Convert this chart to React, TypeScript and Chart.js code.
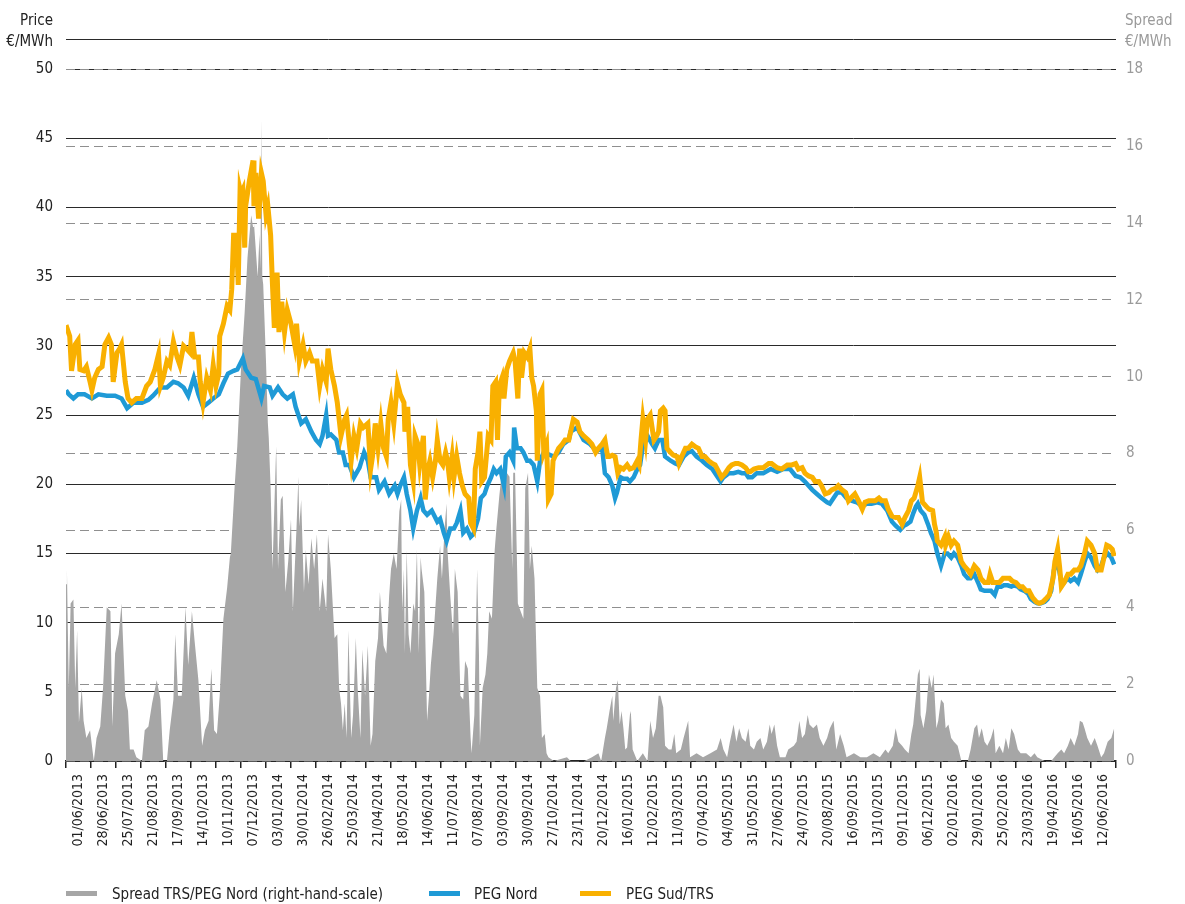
import React, { useEffect, useRef } from 'react';
import { Chart, registerables } from 'chart.js';

Chart.register(...registerables);

// Day offsets are counted from 01/06/2013.
const xTickLabels = [
  '01/06/2013', '28/06/2013', '25/07/2013', '21/08/2013', '17/09/2013', '14/10/2013', '10/11/2013',
  '07/12/2013', '03/01/2014', '30/01/2014', '26/02/2014', '25/03/2014', '21/04/2014', '18/05/2014',
  '14/06/2014', '11/07/2014', '07/08/2014', '03/09/2014', '30/09/2014', '27/10/2014', '23/11/2014',
  '20/12/2014', '16/01/2015', '12/02/2015', '11/03/2015', '07/04/2015', '04/05/2015', '31/05/2015',
  '27/06/2015', '24/07/2015', '20/08/2015', '16/09/2015', '13/10/2015', '09/11/2015', '06/12/2015',
  '02/01/2016', '29/01/2016', '25/02/2016', '23/03/2016', '19/04/2016', '16/05/2016', '12/06/2016',
];
const TICK_STEP_DAYS = 27;

const leftTicks = [0, 5, 10, 15, 20, 25, 30, 35, 40, 45, 50];
const rightTicks = [0, 2, 4, 6, 8, 10, 12, 14, 16, 18];

// [day offset, €/MWh]
const pegSud: [number, number][] = [
  [0, 31.5], [4, 30.7], [6, 28.2], [10, 30.1], [13, 30.4], [15, 28.3], [19, 28.2], [22, 28.5], [26, 27.4], [28, 26.8],
  [31, 27.7], [35, 28.3], [39, 28.5], [42, 30.1], [46, 30.6], [49, 30.1], [51, 27.4], [55, 29.5], [58, 29.8], [60, 30.1],
  [64, 27.4], [67, 26.2], [71, 25.9], [76, 26.2], [82, 26.2], [87, 27.1], [91, 27.4], [96, 28.3], [100, 29.4], [102, 27.1],
  [105, 27.7], [109, 28.9], [112, 28.6], [116, 30.3], [120, 29.2], [123, 28.6], [127, 30.0], [130, 29.8], [134, 29.5], [136, 31.0],
  [139, 29.2], [143, 29.2], [145, 27.4], [148, 25.9], [152, 27.7], [156, 26.8], [159, 28.6], [162, 27.1], [165, 28.0], [166, 30.7],
  [170, 31.6], [174, 32.9], [177, 32.6], [179, 34.1], [181, 38.0], [184, 38.0], [186, 34.4], [188, 41.3], [189, 41.0], [191, 41.3],
  [193, 37.1], [194, 40.1], [198, 41.9], [202, 43.4], [203, 40.1], [205, 42.5], [208, 39.2], [211, 42.5], [213, 41.9], [216, 39.5],
  [218, 40.1], [221, 38.0], [223, 34.4], [225, 31.3], [228, 35.3], [230, 31.0], [233, 33.2], [236, 31.0], [239, 32.6], [243, 31.6],
  [247, 30.1], [249, 31.6], [252, 28.9], [256, 30.1], [259, 28.9], [263, 29.5], [266, 28.9], [271, 28.9], [274, 27.1], [277, 28.3],
  [281, 27.4], [283, 29.8], [286, 28.3], [290, 27.1], [293, 25.9], [297, 23.5], [301, 24.7], [303, 25.0], [306, 22.9], [308, 21.7],
  [311, 23.5], [314, 22.6], [318, 24.4], [321, 24.1], [326, 24.4], [329, 21.1], [331, 22.0], [334, 24.4], [337, 22.6], [340, 24.4],
  [343, 22.6], [346, 22.0], [348, 24.7], [351, 25.9], [354, 24.4], [358, 27.3], [361, 26.5], [365, 25.9], [366, 23.8], [369, 25.6],
  [372, 21.4], [375, 20.2], [377, 23.5], [380, 22.9], [382, 21.4], [386, 23.5], [388, 18.9], [391, 21.1], [393, 21.7], [396, 20.5],
  [399, 21.7], [401, 23.2], [404, 21.7], [407, 21.4], [410, 22.3], [412, 21.7], [414, 20.5], [417, 22.0], [419, 20.5], [422, 22.0],
  [425, 20.8], [428, 19.9], [431, 19.3], [435, 19.0], [437, 17.2], [440, 16.8], [442, 21.1], [445, 22.3], [447, 23.8], [449, 20.2],
  [452, 20.5], [454, 22.0], [456, 23.5], [459, 23.2], [461, 27.1], [464, 27.4], [466, 23.2], [468, 27.1], [471, 27.7], [473, 26.2],
  [476, 28.3], [479, 28.9], [483, 29.5], [485, 28.9], [488, 26.2], [490, 29.8], [492, 27.7], [495, 29.5], [498, 29.2], [501, 29.8],
  [503, 27.7], [505, 27.1], [508, 25.3], [509, 21.7], [512, 26.5], [514, 26.8], [516, 22.3], [519, 22.9], [521, 18.9], [524, 19.3],
  [526, 21.7], [528, 22.0], [532, 22.6], [536, 22.9], [539, 23.2], [543, 23.2], [546, 24.1], [548, 24.7], [552, 24.5], [555, 23.8],
  [559, 23.5], [564, 23.2], [568, 22.9], [572, 22.3], [575, 22.6], [579, 22.9], [582, 23.2], [585, 22.0], [587, 22.0], [590, 22.1],
  [593, 22.0], [596, 20.8], [599, 21.2], [602, 21.1], [606, 21.4], [609, 21.1], [613, 21.2], [617, 21.7], [619, 21.4], [621, 23.2],
  [623, 24.7], [626, 23.2], [628, 24.7], [631, 25.0], [633, 24.1], [635, 23.2], [638, 23.5], [640, 23.8], [642, 25.3], [645, 25.5],
  [647, 25.3], [649, 22.6], [653, 22.3], [656, 22.1], [660, 22.0], [662, 21.5], [665, 22.0], [669, 22.6], [672, 22.6], [676, 22.9],
  [680, 22.7], [683, 22.6], [687, 22.0], [690, 22.0], [694, 21.7], [698, 21.5], [701, 21.4], [705, 20.9], [708, 20.5], [712, 20.8],
  [716, 21.2], [719, 21.4], [723, 21.5], [726, 21.5], [730, 21.4], [734, 21.2], [737, 20.9], [739, 20.9], [743, 21.1], [748, 21.2],
  [753, 21.2], [759, 21.5], [762, 21.5], [768, 21.2], [773, 21.1], [779, 21.4], [784, 21.4], [788, 21.5], [791, 21.1], [795, 21.2],
  [798, 20.8], [802, 20.6], [806, 20.5], [809, 20.2], [813, 20.2], [816, 19.9], [820, 19.3], [824, 19.4], [827, 19.6], [831, 19.7],
  [834, 19.9], [838, 19.6], [842, 19.4], [845, 18.8], [849, 19.1], [852, 19.3], [856, 18.8], [860, 18.2], [863, 18.7], [867, 18.8],
  [870, 18.8], [874, 18.8], [878, 19.0], [881, 18.8], [885, 18.8], [888, 18.2], [892, 17.7], [896, 17.6], [899, 17.6], [903, 17.1],
  [906, 17.6], [910, 18.1], [913, 18.8], [916, 19.0], [920, 19.9], [922, 20.5], [923, 19.9], [925, 18.7], [929, 18.4], [932, 18.2],
  [936, 18.1], [938, 17.1], [940, 16.5], [941, 15.9], [945, 15.6], [949, 16.2], [950, 15.6], [953, 16.2], [956, 15.6], [959, 15.9],
  [963, 15.6], [967, 14.4], [970, 14.1], [974, 13.8], [977, 13.5], [981, 14.1], [985, 13.8], [988, 13.2], [992, 12.9], [996, 12.9],
  [998, 13.5], [1001, 12.9], [1004, 12.9], [1008, 12.9], [1012, 13.2], [1015, 13.2], [1019, 13.2], [1022, 13.0], [1026, 12.9], [1030, 12.6],
  [1033, 12.6], [1037, 12.3], [1040, 12.3], [1044, 11.8], [1048, 11.5], [1051, 11.4], [1055, 11.5], [1058, 11.7], [1062, 12.0], [1066, 13.2],
  [1068, 14.4], [1071, 15.3], [1073, 14.1], [1075, 12.6], [1078, 12.9], [1082, 13.5], [1085, 13.5], [1089, 13.8], [1093, 13.8], [1096, 14.1],
  [1100, 15.0], [1103, 15.9], [1107, 15.6], [1111, 15.0], [1114, 13.8], [1118, 13.8], [1121, 14.7], [1124, 15.6], [1127, 15.5], [1130, 15.3],
  [1132, 14.8],
];

// [day offset, €/MWh]
const pegNord: [number, number][] = [
  [0, 26.8], [3, 26.5], [8, 26.2], [13, 26.5], [20, 26.5], [28, 26.2], [35, 26.5], [44, 26.4], [53, 26.4], [60, 26.2],
  [66, 25.5], [73, 25.9], [82, 25.9], [89, 26.1], [94, 26.4], [102, 27.0], [109, 27.0], [116, 27.4], [121, 27.3], [127, 27.0],
  [132, 26.4], [138, 27.7], [143, 26.5], [148, 25.6], [154, 25.9], [159, 26.2], [165, 26.5], [170, 27.3], [175, 28.0], [181, 28.2],
  [185, 28.3], [191, 29.1], [194, 28.3], [200, 27.7], [205, 27.6], [211, 26.2], [214, 27.1], [220, 27.0], [223, 26.4], [229, 27.0],
  [234, 26.5], [239, 26.2], [245, 26.5], [248, 25.6], [254, 24.4], [259, 24.7], [265, 23.8], [270, 23.2], [274, 22.9], [277, 23.5],
  [281, 25.0], [283, 23.5], [286, 23.6], [292, 23.2], [295, 22.3], [299, 22.3], [302, 21.4], [306, 21.4], [311, 20.5], [317, 21.2],
  [322, 22.3], [326, 21.7], [329, 20.5], [335, 20.5], [338, 19.6], [344, 20.2], [349, 19.3], [355, 19.9], [358, 19.3], [361, 19.9],
  [365, 20.5], [368, 19.3], [372, 18.1], [375, 16.8], [379, 18.1], [383, 19.0], [386, 18.1], [390, 17.8], [395, 18.1], [401, 17.3],
  [404, 17.5], [408, 16.5], [411, 15.9], [415, 16.8], [419, 16.8], [422, 17.2], [426, 18.1], [429, 16.5], [433, 16.8], [437, 16.2],
  [440, 16.4], [445, 17.5], [448, 19.0], [452, 19.3], [455, 19.9], [459, 20.5], [462, 21.1], [465, 20.8], [469, 21.1], [473, 19.9],
  [475, 22.0], [479, 22.3], [483, 21.7], [484, 24.1], [487, 22.6], [491, 22.6], [494, 22.3], [498, 21.7], [501, 21.7], [505, 21.4],
  [509, 20.2], [512, 21.7], [516, 22.3], [527, 22.0], [532, 22.3], [537, 22.9], [543, 23.2], [545, 23.8], [552, 24.1], [559, 23.2],
  [566, 22.9], [573, 22.4], [579, 22.6], [582, 20.8], [586, 20.5], [590, 19.9], [593, 19.0], [595, 19.4], [599, 20.5], [602, 20.4],
  [606, 20.4], [609, 20.2], [613, 20.5], [617, 21.1], [620, 21.4], [624, 23.2], [628, 23.5], [633, 22.9], [636, 22.6], [640, 23.2],
  [644, 23.2], [647, 22.0], [653, 21.7], [658, 21.5], [662, 21.4], [667, 22.0], [672, 22.3], [676, 22.4], [681, 22.0], [687, 21.7],
  [692, 21.4], [698, 21.1], [703, 20.6], [707, 20.2], [710, 20.5], [716, 20.8], [721, 20.8], [726, 20.9], [730, 20.8], [734, 20.8],
  [737, 20.5], [741, 20.5], [746, 20.8], [753, 20.8], [761, 21.1], [768, 20.9], [775, 21.1], [782, 21.1], [788, 20.6], [793, 20.5],
  [798, 20.2], [802, 19.9], [806, 19.6], [811, 19.3], [816, 19.0], [822, 18.7], [825, 18.6], [829, 19.0], [833, 19.4], [838, 19.4],
  [843, 19.0], [849, 18.8], [854, 18.7], [860, 18.4], [865, 18.6], [870, 18.6], [876, 18.7], [881, 18.6], [887, 18.1], [892, 17.3],
  [896, 17.0], [901, 16.7], [905, 17.0], [908, 17.1], [912, 17.3], [915, 17.9], [918, 18.4], [920, 18.6], [923, 18.1], [927, 17.8],
  [931, 17.1], [934, 16.5], [938, 15.9], [941, 15.0], [945, 14.1], [949, 15.0], [952, 15.0], [956, 14.7], [959, 15.0], [963, 14.7],
  [967, 14.1], [970, 13.5], [974, 13.2], [977, 13.2], [981, 13.5], [985, 12.9], [988, 12.4], [992, 12.3], [995, 12.3], [999, 12.3],
  [1003, 12.0], [1006, 12.6], [1010, 12.6], [1013, 12.7], [1017, 12.7], [1021, 12.6], [1024, 12.7], [1028, 12.6], [1031, 12.4], [1035, 12.3],
  [1039, 12.1], [1042, 11.7], [1046, 11.5], [1049, 11.4], [1053, 11.4], [1057, 11.5], [1060, 11.7], [1064, 12.3], [1067, 13.8], [1071, 14.4],
  [1075, 12.9], [1078, 12.9], [1082, 13.2], [1085, 13.0], [1089, 13.2], [1093, 12.9], [1096, 13.5], [1100, 14.4], [1103, 15.0], [1107, 14.7],
  [1111, 14.1], [1114, 13.8], [1118, 14.1], [1121, 14.7], [1125, 15.0], [1129, 14.7], [1132, 14.2],
];

// [day offset, spread €/MWh] (right-hand scale)
const spread: [number, number][] = [
  [0, 4.6], [1, 5.0], [3, 1.9], [5, 4.1], [8, 4.2], [10, 1.9], [12, 3.4], [14, 1.0], [17, 1.9], [19, 1.05],
  [22, 0.6], [26, 0.8], [30, 0], [33, 0.6], [37, 0.9], [40, 1.9], [44, 4.0], [48, 3.9], [50, 0.9], [53, 2.8],
  [57, 3.3], [60, 4.1], [64, 1.7], [67, 1.3], [69, 0.3], [73, 0.3], [76, 0.1], [82, 0], [85, 0.8], [89, 0.9],
  [93, 1.5], [98, 2.1], [102, 1.6], [105, 0], [109, 0], [112, 0.8], [116, 1.6], [118, 3.3], [121, 1.7], [125, 1.7],
  [129, 4.0], [132, 2.5], [136, 3.9], [139, 3.1], [143, 2.1], [147, 0.4], [150, 0.8], [154, 1.05], [157, 2.4], [160, 0.8],
  [163, 0.7], [166, 1.7], [170, 3.7], [174, 4.5], [177, 5.3], [178, 5.4], [182, 7.1], [185, 8.2], [189, 10.2], [193, 11.7],
  [196, 13.1], [200, 14.2], [202, 13.9], [203, 14.0], [207, 12.6], [209, 13.7], [210, 12.8], [211, 16.7], [212, 12.6], [213, 12.4],
  [216, 10.4], [218, 8.8], [219, 8.4], [221, 7.1], [223, 5.0], [225, 6.6], [227, 8.2], [229, 5.0], [232, 6.8], [234, 6.9],
  [237, 4.4], [240, 5.2], [243, 6.3], [245, 3.9], [249, 6.1], [251, 7.4], [252, 6.1], [254, 6.8], [257, 4.4], [259, 5.5],
  [262, 4.6], [265, 5.8], [268, 5.0], [271, 5.9], [274, 3.9], [277, 4.75], [281, 3.9], [283, 5.9], [286, 5.0], [290, 3.2],
  [293, 3.3], [295, 1.9], [297, 1.5], [299, 0.8], [301, 1.5], [303, 0.6], [305, 3.4], [308, 0.6], [310, 1.2], [313, 3.2],
  [315, 1.9], [318, 0.6], [320, 2.9], [323, 1.7], [326, 3.0], [329, 0.4], [331, 0.7], [334, 2.6], [337, 3.2], [339, 4.4],
  [343, 3.0], [346, 2.8], [349, 4.3], [351, 5.0], [354, 5.4], [357, 5.0], [360, 6.5], [362, 6.8], [363, 3.9], [365, 5.0],
  [366, 2.8], [368, 5.5], [370, 3.3], [372, 2.8], [375, 4.1], [377, 3.9], [379, 5.5], [381, 2.8], [383, 5.3], [384, 5.0],
  [387, 4.4], [390, 1.05], [392, 1.7], [394, 2.5], [397, 3.3], [401, 4.75], [404, 5.6], [406, 4.75], [409, 6.1], [411, 6.7],
  [412, 5.5], [415, 4.3], [418, 3.3], [420, 5.0], [423, 4.4], [426, 1.7], [429, 1.6], [431, 2.6], [434, 2.4], [437, 0.6],
  [438, 0.2], [441, 1.2], [444, 5.0], [446, 2.8], [447, 0.4], [450, 1.9], [453, 2.25], [455, 2.8], [457, 3.9], [460, 3.7],
  [463, 5.5], [465, 6.1], [468, 6.9], [471, 7.6], [473, 7.1], [476, 7.5], [479, 7.4], [482, 5.0], [483, 7.5], [485, 7.5],
  [488, 4.1], [491, 3.9], [494, 3.7], [496, 7.1], [499, 7.5], [501, 5.0], [503, 5.6], [506, 4.75], [509, 1.9], [512, 1.7],
  [514, 0.6], [517, 0.7], [519, 0.2], [521, 0.1], [527, 0], [541, 0.1], [545, 0], [560, 0], [568, 0.1], [575, 0.2],
  [578, 0], [582, 0.6], [584, 0.85], [587, 1.3], [590, 1.7], [591, 1.05], [594, 1.9], [596, 2.1], [598, 0.95], [600, 1.3],
  [602, 0.85], [604, 0.3], [606, 0.35], [609, 1.2], [610, 1.3], [612, 0.3], [617, 0], [623, 0.2], [628, 0], [631, 1.05],
  [634, 0.6], [637, 0.85], [640, 1.7], [642, 1.7], [645, 1.4], [647, 0.4], [651, 0.3], [654, 0.3], [657, 0.7], [659, 0.2],
  [664, 0.3], [667, 0.6], [672, 1.05], [674, 0.1], [681, 0.2], [688, 0.1], [696, 0.2], [703, 0.3], [707, 0.6], [710, 0.3],
  [714, 0.1], [717, 0.5], [721, 0.95], [724, 0.5], [727, 0.85], [730, 0.6], [734, 0.5], [737, 0.85], [739, 0.4], [743, 0.3],
  [746, 0.5], [750, 0.6], [753, 0.3], [757, 0.5], [760, 0.95], [762, 0.7], [765, 0.95], [768, 0.4], [771, 0.1], [777, 0.1],
  [780, 0.3], [786, 0.4], [789, 0.5], [792, 1.05], [795, 0.6], [798, 0.7], [801, 1.2], [803, 0.95], [807, 0.85], [811, 0.95],
  [814, 0.6], [818, 0.4], [822, 0.6], [825, 0.85], [829, 1.05], [832, 0.3], [836, 0.7], [840, 0.4], [843, 0.1], [851, 0.2],
  [858, 0.1], [865, 0.1], [872, 0.2], [879, 0.1], [885, 0.3], [888, 0.2], [893, 0.4], [896, 0.85], [899, 0.5], [903, 0.4],
  [906, 0.3], [910, 0.2], [913, 0.7], [915, 0.95], [918, 1.7], [920, 2.25], [922, 2.4], [923, 1.2], [926, 0.85], [929, 1.3],
  [932, 2.25], [935, 1.9], [937, 2.25], [940, 0.85], [942, 1.05], [945, 1.6], [948, 1.5], [950, 0.85], [953, 0.95], [956, 0.6],
  [959, 0.5], [963, 0.4], [967, 0], [974, 0], [977, 0.3], [981, 0.85], [984, 0.95], [986, 0.6], [989, 0.85], [992, 0.5],
  [995, 0.4], [999, 0.6], [1002, 0.85], [1004, 0.2], [1008, 0.4], [1012, 0.2], [1015, 0.6], [1018, 0.3], [1021, 0.85], [1024, 0.7],
  [1028, 0.3], [1031, 0.2], [1037, 0.2], [1042, 0.1], [1046, 0.2], [1049, 0.1], [1057, 0], [1064, 0], [1071, 0.2], [1075, 0.3],
  [1078, 0.2], [1082, 0.4], [1085, 0.6], [1089, 0.4], [1093, 0.7], [1095, 1.05], [1098, 1.0], [1100, 0.85], [1103, 0.6], [1107, 0.4],
  [1111, 0.6], [1114, 0.4], [1118, 0.1], [1121, 0.2], [1125, 0.5], [1129, 0.6], [1132, 0.85],
];

const FONT = "'DejaVu Sans Condensed', 'Liberation Sans Narrow', sans-serif";
const GRAY = '#a6a6a6';
const BLUE = '#1f9ad6';
const ORANGE = '#f9b000';
const LEFT_MAX = 52.18;
const RIGHT_MAX = 18.79;

const toPoints = (arr: [number, number][]) => arr.map(([x, y]) => ({ x, y }));

export default function App() {
  const ref = useRef<HTMLCanvasElement | null>(null);

  useEffect(() => {
    if (!ref.current) return;
    const chart = new Chart(ref.current, {
      type: 'line',
      data: {
        datasets: [
          {
            label: 'Spread TRS/PEG Nord (right-hand-scale)',
            data: toPoints(spread),
            yAxisID: 'y1',
            fill: 'origin',
            backgroundColor: GRAY,
            borderColor: GRAY,
            borderWidth: 0,
            pointRadius: 0,
            tension: 0,
            order: 3,
          },
          {
            label: 'PEG Nord',
            data: toPoints(pegNord),
            yAxisID: 'y',
            borderColor: BLUE,
            backgroundColor: BLUE,
            borderWidth: 4.5,
            pointRadius: 0,
            tension: 0,
            fill: false,
            order: 2,
          },
          {
            label: 'PEG Sud/TRS',
            data: toPoints(pegSud),
            yAxisID: 'y',
            borderColor: ORANGE,
            backgroundColor: ORANGE,
            borderWidth: 5,
            pointRadius: 0,
            tension: 0,
            fill: false,
            order: 1,
          },
        ],
      },
      options: {
        responsive: false,
        animation: false,
        events: [],
        layout: { padding: { top: 39, left: 0, right: 0, bottom: 0 } },
        plugins: {
          legend: { display: false },
          tooltip: { enabled: false },
        },
        scales: {
          x: {
            type: 'linear',
            min: 0,
            max: TICK_STEP_DAYS * xTickLabels.length,
            afterBuildTicks: (scale: any) => {
              scale.ticks = Array.from({ length: xTickLabels.length + 1 }, (_, k) => ({ value: k * TICK_STEP_DAYS }));
            },
            afterFit: (scale: any) => {
              scale.height = 143;
            },
            grid: {
              display: true,
              drawOnChartArea: false,
              drawTicks: true,
              tickLength: 7,
              color: '#222',
              lineWidth: 1.5,
            },
            border: { display: true, color: '#222', width: 1.5 },
            ticks: {
              autoSkip: false,
              minRotation: 90,
              maxRotation: 90,
              labelOffset: 12.5,
              padding: 6,
              color: '#222',
              font: { family: FONT, size: 14 },
              callback: (value: any) => {
                const idx = Math.round(Number(value) / TICK_STEP_DAYS);
                return xTickLabels[idx] ?? '';
              },
            },
          },
          y: {
            position: 'left',
            min: 0,
            max: LEFT_MAX,
            afterBuildTicks: (scale: any) => {
              scale.ticks = [...leftTicks, LEFT_MAX].map((v) => ({ value: v }));
            },
            afterFit: (scale: any) => {
              scale.width = 66;
            },
            grid: { color: '#2a2a2a', lineWidth: 1, drawTicks: false },
            border: { display: false },
            ticks: {
              padding: 13,
              color: '#222',
              font: { family: FONT, size: 15 },
              callback: (value: any) => (Number(value) > 50.5 ? '' : String(value)),
            },
          },
          y1: {
            position: 'right',
            min: 0,
            max: RIGHT_MAX,
            afterBuildTicks: (scale: any) => {
              scale.ticks = rightTicks.map((v) => ({ value: v }));
            },
            afterFit: (scale: any) => {
              scale.width = 69;
            },
            grid: { color: '#8f8f8f', lineWidth: 1, drawTicks: false },
            border: { display: false, dash: [9, 5] },
            ticks: {
              padding: 10,
              color: '#9a9a9a',
              font: { family: FONT, size: 15 },
              callback: (value: any) => String(value),
            },
          },
        },
      },
    } as any);

    return () => chart.destroy();
  }, []);

  const titleStyle: React.CSSProperties = {
    position: 'absolute',
    fontSize: 15,
    lineHeight: '15px',
    whiteSpace: 'nowrap',
    fontFamily: FONT,
  };
  const legendText: React.CSSProperties = {
    position: 'absolute',
    top: 886.5,
    fontSize: 15,
    lineHeight: '15px',
    whiteSpace: 'nowrap',
    color: '#222',
    fontFamily: FONT,
  };
  const swatch = (left: number, width: number, color: string): React.CSSProperties => ({
    position: 'absolute',
    left,
    top: 891,
    width,
    height: 5,
    background: color,
  });

  return (
    <div style={{ position: 'fixed', left: 0, top: 0, width: 1185, height: 904, background: '#fff', fontFamily: FONT }}>
      <canvas ref={ref} width={1185} height={904} style={{ position: 'absolute', left: 0, top: 0, display: 'block' }} />
      <div style={{ ...titleStyle, top: 13.3, right: 1185 - 53, color: '#222', textAlign: 'right' }}>Price</div>
      <div style={{ ...titleStyle, top: 34.3, right: 1185 - 53, color: '#222', textAlign: 'right' }}>€/MWh</div>
      <div style={{ ...titleStyle, top: 13.3, left: 1125, color: '#9a9a9a' }}>Spread</div>
      <div style={{ ...titleStyle, top: 34.3, left: 1125, color: '#9a9a9a' }}>€/MWh</div>

      <div style={swatch(66, 31, GRAY)} />
      <div style={{ ...legendText, left: 112 }}>Spread TRS/PEG Nord (right-hand-scale)</div>
      <div style={swatch(429, 31, BLUE)} />
      <div style={{ ...legendText, left: 474 }}>PEG Nord</div>
      <div style={swatch(580, 31, ORANGE)} />
      <div style={{ ...legendText, left: 626 }}>PEG Sud/TRS</div>
    </div>
  );
}
